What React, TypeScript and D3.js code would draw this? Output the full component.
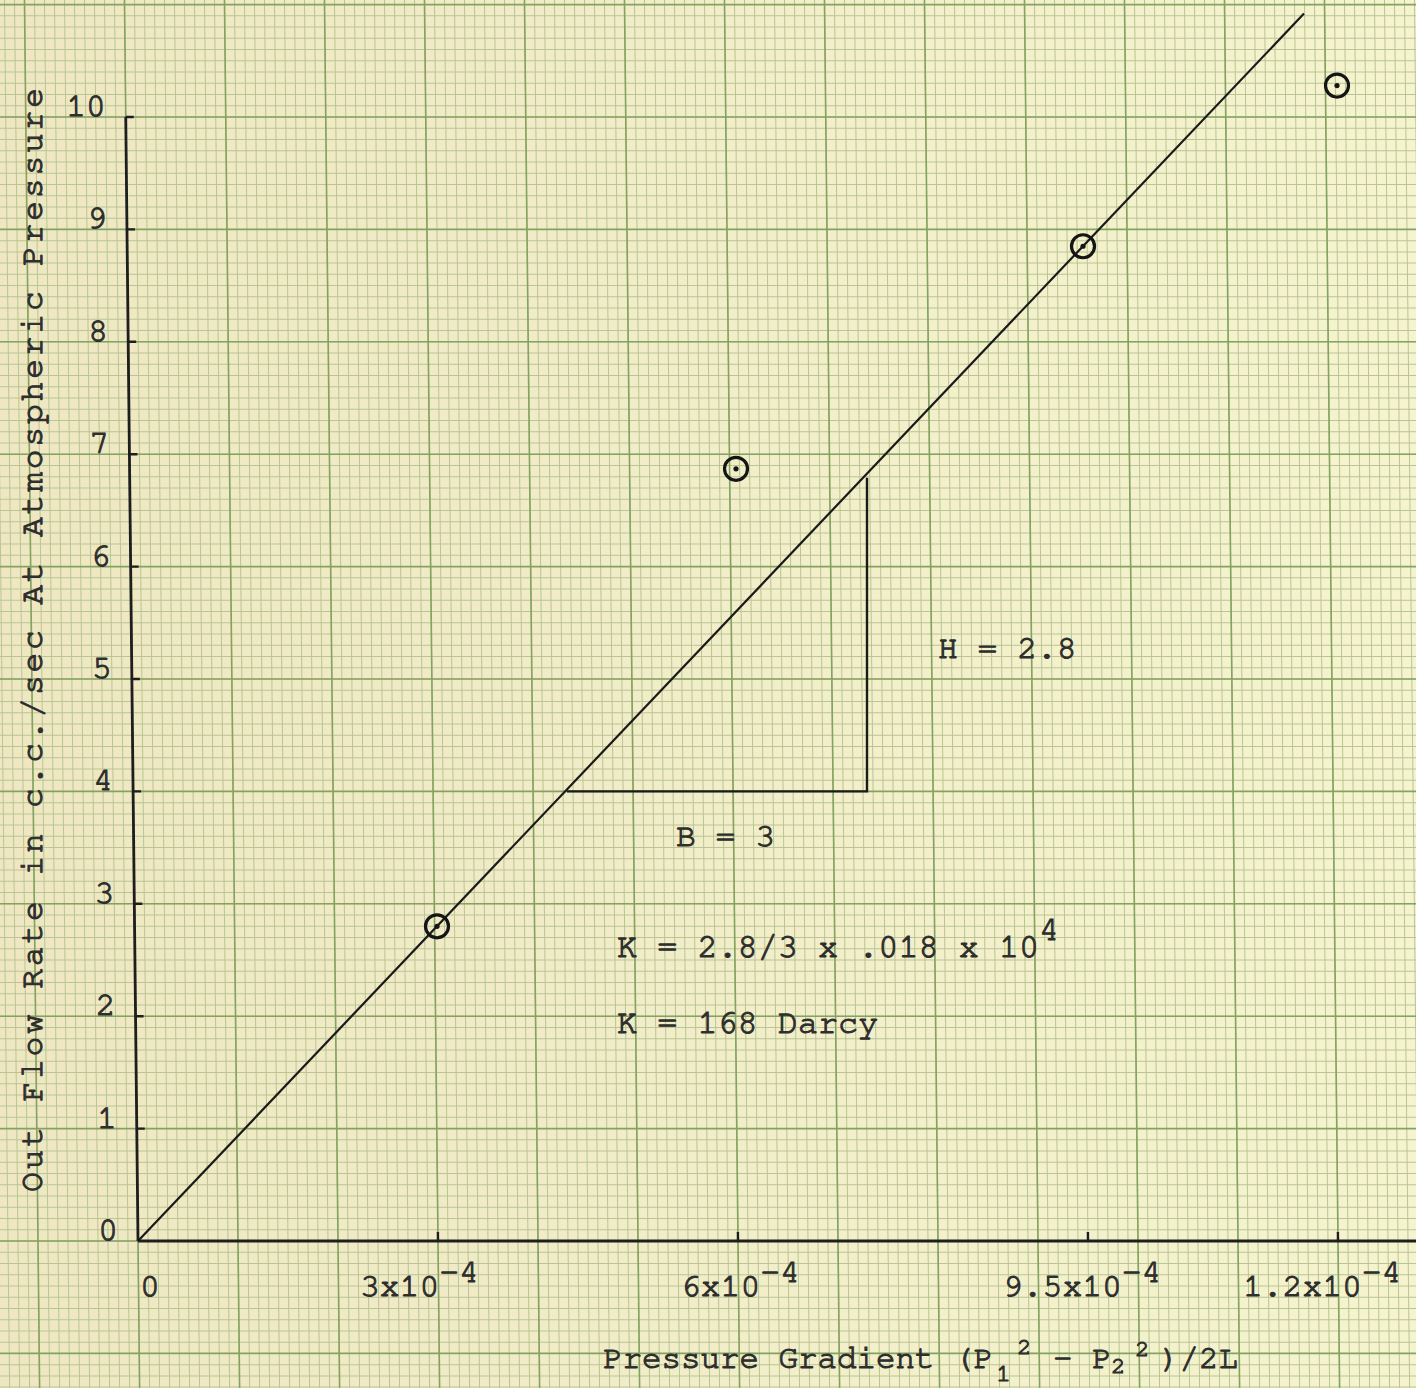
import React from 'react';
import * as d3 from 'd3';

// tick values (x in units of 1e-4)
const xTicks = [0, 3, 6, 9.5, 12];
const xTickLabels = ['0', '3x10', '6x10', '9.5x10', '1.2x10'];
const xTickExp = ['', '-4', '-4', '-4', '-4'];
const yTicks = [0, 1, 2, 3, 4, 5, 6, 7, 8, 9, 10];

// measured points
const pointX = [2.99, 5.98, 9.45, 11.99];
const pointY = [2.8, 6.87, 8.85, 10.28];

// fitted line and slope triangle
const fitLineX = [0, 11.66];
const fitLineY = [0, 10.92];
const triangleX = [4.29, 7.29, 7.29];
const triangleY = [4.0, 4.0, 6.79];

// hand placed label offsets (px)
const xLabelDx = [2, -78, -57, -85, -95];

const W = 1416;
const H = 1388;
const FONT = '"Nimbus Mono PS", "Nimbus Mono L", "FreeMono", "Courier New", Courier, "Liberation Mono", monospace';
const INK = '#2e2e2e';

const App: React.FC = () => {
  const x = d3.scaleLinear().domain([0, 1]).range([138, 238]);
  const y = d3.scaleLinear().domain([0, 10]).range([1241, 117]);

  // the scanned paper is slightly sheared
  const k = 0.0109;
  const shear = `translate(${-k * y(0)},0) skewX(${(Math.atan(k) * 180) / Math.PI})`;

  const minorX = d3.range(-20, 145).map(i => i / 10);
  const minorY = d3.range(-20, 125).map(i => i / 10);
  const majorX = d3.range(-2, 15);
  const majorY = d3.range(-2, 13);

  const line = d3.line<[number, number]>().x(d => x(d[0])).y(d => y(d[1]));
  const fitPts = fitLineX.map((v, i) => [v, fitLineY[i]] as [number, number]);
  const triPts = triangleX.map((v, i) => [v, triangleY[i]] as [number, number]);

  const textStyle = { fontFamily: FONT, fill: INK, stroke: INK, strokeWidth: 1.1 };

  return (
    <svg width={W} height={H} style={{ position: 'absolute', left: 0, top: 0, display: 'block' }}>
      <defs>
        <linearGradient id="paper" x1="0" x2="1" y1="0" y2="0">
          <stop offset="0%" stopColor="#eee7c2" />
          <stop offset="100%" stopColor="#f5f4cf" />
        </linearGradient>
      </defs>
      <rect width={W} height={H} fill="url(#paper)" />

      <g transform={shear}>
        {/* graph paper */}
        {minorX.map((v, i) => (
          <line key={'mx' + i} x1={x(v)} x2={x(v)} y1={-40} y2={H + 40} stroke="#b9c593" strokeWidth={1} />
        ))}
        {minorY.map((v, i) => (
          <line key={'my' + i} x1={-40} x2={W + 40} y1={y(v)} y2={y(v)} stroke="#b9c593" strokeWidth={1} />
        ))}
        {majorX.map(v => (
          <line key={'Mx' + v} x1={x(v)} x2={x(v)} y1={-40} y2={H + 40} stroke="#84a260" strokeWidth={1.6} />
        ))}
        {majorY.map(v => (
          <line key={'My' + v} x1={-40} x2={W + 40} y1={y(v)} y2={y(v)} stroke="#84a260" strokeWidth={1.6} />
        ))}

        {/* axes */}
        <line x1={x(0)} x2={W + 20} y1={y(0)} y2={y(0)} stroke="#1e1e1e" strokeWidth={2.8} />
        <line x1={x(0)} x2={x(0)} y1={y(0)} y2={y(10)} stroke="#1e1e1e" strokeWidth={2.8} />
        {yTicks.filter(v => v > 0).map(v => (
          <line key={'yt' + v} x1={x(0)} x2={x(0) + 8} y1={y(v)} y2={y(v)} stroke="#1e1e1e" strokeWidth={2.4} />
        ))}
        {xTicks.filter(v => v > 0).map(v => (
          <line key={'xt' + v} x1={x(v)} x2={x(v)} y1={y(0)} y2={y(0) - 9} stroke="#1e1e1e" strokeWidth={2.4} />
        ))}
        {yTicks.map(v => (
          <text key={'yl' + v} x={x(0) - 20} y={y(v) - 1} textAnchor="end" fontSize={33} style={textStyle}>
            {v}
          </text>
        ))}
      </g>

      {/* fit line and slope triangle */}
      <path d={line(fitPts) || ''} fill="none" stroke="#1a1a1a" strokeWidth={2.2} />
      <path d={line(triPts) || ''} fill="none" stroke="#1a1a1a" strokeWidth={2.4} />

      {/* data points */}
      {pointX.map((v, i) => (
        <g key={'p' + i}>
          <circle cx={x(v)} cy={y(pointY[i])} r={11.5} fill="none" stroke="#151515" strokeWidth={3.2} />
          <circle cx={x(v)} cy={y(pointY[i])} r={2.6} fill="#151515" />
        </g>
      ))}

      {/* x tick labels */}
      {xTicks.map((v, i) => (
        <text key={'xl' + i} x={x(v) + xLabelDx[i]} y={1296} fontSize={33} style={textStyle}>
          {xTickLabels[i]}
          {xTickExp[i] && <tspan dy={-14}>{xTickExp[i]}</tspan>}
        </text>
      ))}

      {/* axis titles */}
      <text x={603} y={1368} fontSize={32.5} style={textStyle}>Pressure Gradient (P</text>
      <text x={996} y={1381} fontSize={25} style={textStyle}>1</text>
      <text x={1017} y={1354} fontSize={24} style={textStyle}>2</text>
      <text x={1053} y={1368} fontSize={32.5} style={textStyle}>- P</text>
      <text x={1111} y={1373} fontSize={24} style={textStyle}>2</text>
      <text x={1135} y={1356} fontSize={24} style={textStyle}>2</text>
      <text x={1160} y={1368} fontSize={32.5} style={textStyle}>)/2L</text>

      <text
        transform="translate(42,1192) rotate(-90)"
        fontSize={33}
        textLength={1104}
        lengthAdjust="spacing"
        style={textStyle}
      >
        Out Flow Rate in c.c./sec At Atmospheric Pressure
      </text>

      {/* annotations */}
      <text x={938} y={658} fontSize={33} style={textStyle}>H = 2.8</text>
      <text x={676} y={846} fontSize={33} style={textStyle}>B = 3</text>
      <text x={617} y={957} fontSize={33.5} style={textStyle}>
        K = 2.8/3 x .018 x 10<tspan dy={-17}>4</tspan>
      </text>
      <text x={617} y={1033} fontSize={33.5} style={textStyle}>K = 168 Darcy</text>
    </svg>
  );
};

export default App;
